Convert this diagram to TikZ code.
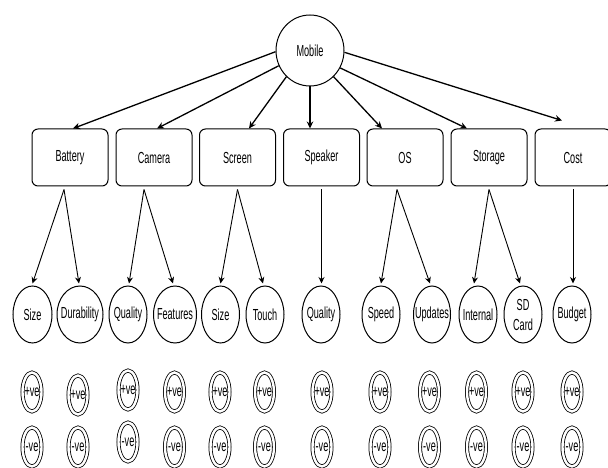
\documentclass[tikz,border=0pt]{standalone}
\usepackage{fontspec}
\setmainfont{Liberation Sans}[FakeStretch=0.57]
\usetikzlibrary{shapes.geometric,arrows.meta}
\begin{document}
\begin{tikzpicture}[x=1pt,y=-1pt,
  font=\fontsize{16}{19}\selectfont,
  box/.style={draw,rounded corners=6pt,minimum width=76pt,minimum height=57pt,line width=1pt},
  oval/.style={draw,ellipse,minimum height=57pt,inner sep=0pt,line width=1pt},
  dbl/.style={draw,ellipse,double,double distance=2.4pt,line width=0.8pt,minimum width=19pt,minimum height=39pt,inner sep=0pt},
  toparr/.style={line width=1.3pt,-{Stealth[length=7pt,width=6.5pt]}},
  lowarr/.style={line width=0.9pt,-{Stealth[length=6.5pt,width=6pt]}},
]
\useasboundingbox (0,0) rectangle (608,468);

% root
\node[oval,minimum width=68pt,minimum height=71pt,label=center:Mobile] (mobile) at (310,50.5) {};

% boxes
\node[box] (battery) at (70,157.5) {Battery};
\node[box] (camera)  at (154,157.5) {Camera};
\node[box] (screen)  at (237.5,157.5) {Screen};
\node[box] (speaker) at (321.5,157.5) {Speaker};
\node[box] (os)      at (405,157.5) {OS};
\node[box] (storage) at (489,157.5) {Storage};
\node[box] (cost)    at (573,157.5) {Cost};

% top arrows
\draw[toparr] (mobile.182) -- ([xshift=3pt]battery.north);
\draw[toparr] (mobile.206) -- ([xshift=3pt]camera.north);
\draw[toparr] (mobile.228) -- ([xshift=11.5pt]screen.north);
\draw[toparr] (mobile.south) -- (mobile.south |- speaker.north);
\draw[toparr] (mobile.312) -- ([xshift=-23pt]os.north);
\draw[toparr] (mobile.330) -- ([xshift=-22pt]storage.north);
\draw[toparr] (mobile.357) -- ([xshift=-11pt,yshift=8pt]cost.north);

% second row
\node[oval,minimum width=39pt,label=center:Size]       (size1)  at (32.5,314.5) {};
\node[oval,minimum width=46pt,label=center:Durability] (dur)    at (80,314.5) {};
\node[oval,minimum width=38pt,label=center:Quality]    (qual1)  at (128,314.5) {};
\node[oval,minimum width=43pt,label=center:Features]   (feat)   at (175,314.5) {};
\node[oval,minimum width=38pt,label=center:Size]       (size2)  at (220.5,314.5) {};
\node[oval,minimum width=38pt,label=center:Touch]      (touch)  at (265,314.5) {};
\node[oval,minimum width=38pt,label=center:Quality]    (qual2)  at (321,314.5) {};
\node[oval,minimum width=38pt,label=center:Speed]      (speed)  at (381,314.5) {};
\node[oval,minimum width=37pt,label=center:Updates]    (upd)    at (432,314.5) {};
\node[oval,minimum width=38pt,label=center:Internal]   (intl)   at (478,314.5) {};
\node[oval,minimum width=38pt,label={[align=center]center:SD\\[1pt]Card}] (sd) at (523,314.5) {};
\node[oval,minimum width=38pt,label=center:Budget]     (budget) at (572,314.5) {};

% lower arrows
\draw[lowarr] ([xshift=-6pt,yshift=-3pt]battery.south) -- ([yshift=2pt]size1.north);
\draw[lowarr] ([xshift=-6pt,yshift=-3pt]battery.south) -- ([xshift=-1pt,yshift=2pt]dur.north);
\draw[lowarr] ([xshift=-10pt,yshift=-3pt]camera.south) -- ([xshift=1pt,yshift=2pt]qual1.north);
\draw[lowarr] ([xshift=-10pt,yshift=-3pt]camera.south) -- ([xshift=-2pt,yshift=2pt]feat.north);
\draw[lowarr] ([yshift=-3pt]screen.south) -- ([yshift=2pt]size2.north);
\draw[lowarr] ([yshift=-3pt]screen.south) -- ([xshift=-2pt,yshift=2pt]touch.north);
\draw[lowarr] ([yshift=-3pt]speaker.south) -- ([yshift=2pt]speaker.south |- qual2.north);
\draw[lowarr] ([xshift=-8pt,yshift=-3pt]os.south) -- ([yshift=2pt]speed.north);
\draw[lowarr] ([xshift=-8pt,yshift=-3pt]os.south) -- ([xshift=-2pt,yshift=2pt]upd.north);
\draw[lowarr] ([yshift=-3pt]storage.south) -- ([xshift=-4pt,yshift=2pt]intl.north);
\draw[lowarr] ([yshift=-3pt]storage.south) -- ([xshift=-3pt,yshift=2pt]sd.north);
\draw[lowarr] ([yshift=-3pt]cost.south) -- ([yshift=2pt]cost.south |- budget.north);

% +ve / -ve
\node[dbl,label=center:+ve] (p1)  at (32,392) {};
\node[dbl,label=center:+ve] (p2)  at (78,395) {};
\node[dbl,label=center:+ve] (p3)  at (128,390) {};
\node[dbl,label=center:+ve] (p4)  at (174.5,392) {};
\node[dbl,label=center:+ve] (p5)  at (220,392) {};
\node[dbl,label=center:+ve] (p6)  at (264.5,392) {};
\node[dbl,label=center:+ve] (p7)  at (322,392) {};
\node[dbl,label=center:+ve] (p8)  at (380,392) {};
\node[dbl,label=center:+ve] (p9)  at (429.5,392) {};
\node[dbl,label=center:+ve] (p10) at (476.5,392) {};
\node[dbl,label=center:+ve] (p11) at (523,392) {};
\node[dbl,label=center:+ve] (p12) at (572,392) {};

\node[dbl,label=center:-ve] (n1)  at (32,447) {};
\node[dbl,label=center:-ve] (n2)  at (78,447) {};
\node[dbl,label=center:-ve] (n3)  at (128,442) {};
\node[dbl,label=center:-ve] (n4)  at (174.5,447) {};
\node[dbl,label=center:-ve] (n5)  at (220,447) {};
\node[dbl,label=center:-ve] (n6)  at (264.5,447) {};
\node[dbl,label=center:-ve] (n7)  at (322,447) {};
\node[dbl,label=center:-ve] (n8)  at (380,447) {};
\node[dbl,label=center:-ve] (n9)  at (429.5,447) {};
\node[dbl,label=center:-ve] (n10) at (476.5,447) {};
\node[dbl,label=center:-ve] (n11) at (523,447) {};
\node[dbl,label=center:-ve] (n12) at (572,447) {};
\end{tikzpicture}
\end{document}
